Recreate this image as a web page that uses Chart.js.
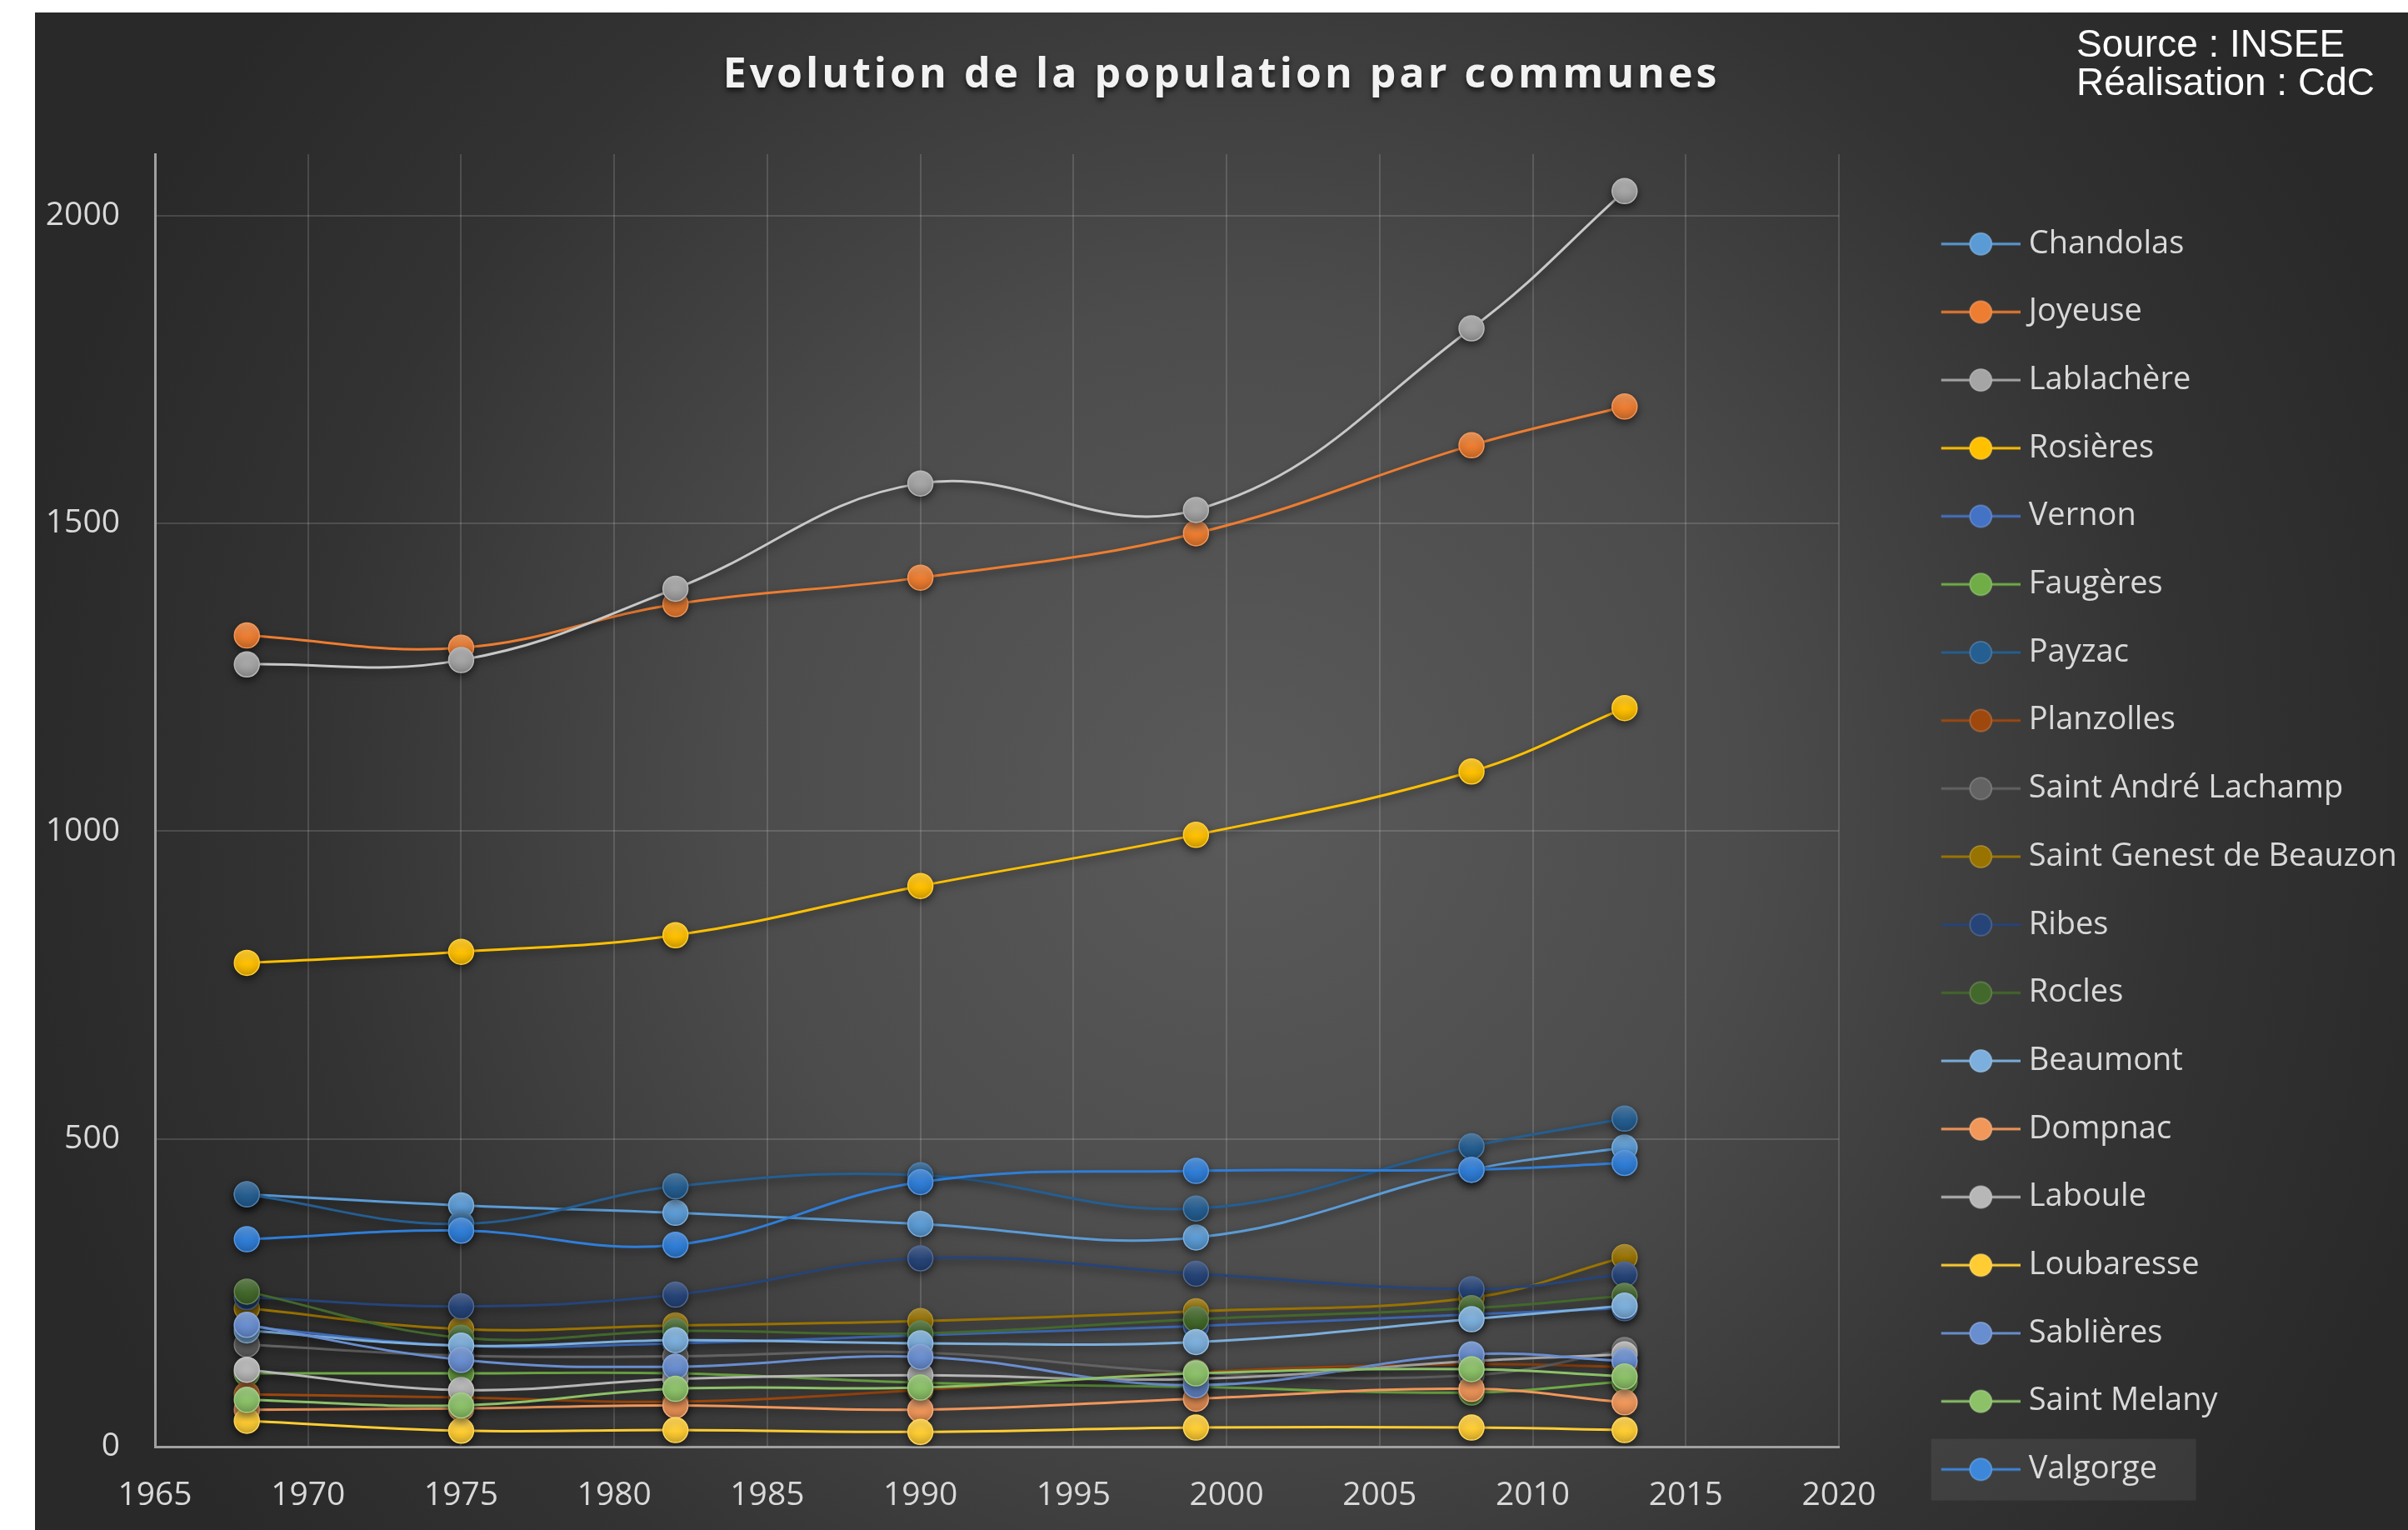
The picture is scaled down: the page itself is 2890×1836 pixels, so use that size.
<!DOCTYPE html>
<html lang="fr">
<head>
<meta charset="utf-8">
<title>Evolution de la population par communes</title>
<script src="https://cdn.jsdelivr.net/npm/chart.js@4.4.1/dist/chart.umd.min.js"></script>
<style>
  html, body { margin: 0; padding: 0; background: #ffffff; }
  body { width: 2890px; height: 1836px; overflow: hidden; position: relative; }
  #wrap { position: absolute; left: 42px; top: 15px; width: 2848px; height: 1821px; }
</style>
</head>
<body>
<div id="wrap"><canvas id="popChart" width="2848" height="1821"></canvas></div>
<script>
// census years (x) and axis ticks
const years = [1968, 1975, 1982, 1990, 1999, 2008, 2013];
const xTicks = [1965, 1970, 1975, 1980, 1985, 1990, 1995, 2000, 2005, 2010, 2015, 2020];
const yTicks = [0, 500, 1000, 1500, 2000];

const communes = [
  "Chandolas", "Joyeuse", "Lablachère", "Rosières", "Vernon", "Faugères",
  "Payzac", "Planzolles", "Saint André Lachamp", "Saint Genest de Beauzon",
  "Ribes", "Rocles", "Beaumont", "Dompnac", "Laboule", "Loubaresse",
  "Sablières", "Saint Melany", "Valgorge"
];

// population per commune, one value per census year
const chandolas   = [410, 392, 380, 362, 340, 450, 486];
const joyeuse     = [1318, 1298, 1369, 1412, 1484, 1627, 1690];
const lablachere  = [1271, 1278, 1394, 1565, 1522, 1817, 2040];
const rosieres    = [786, 804, 831, 911, 994, 1097, 1200];
const vernon      = [195, 164, 168, 181, 196, 215, 225];
const faugeres    = [119, 119, 119, 104, 97, 88, 106];
const payzac      = [410, 362, 423, 441, 387, 488, 533];
const planzolles  = [85, 80, 73, 92, 121, 134, 130];
const saintAndre  = [166, 148, 147, 153, 120, 116, 157];
const saintGenest = [225, 191, 197, 204, 220, 242, 308];
const ribes       = [243, 228, 247, 306, 281, 256, 280];
const rocles      = [252, 177, 188, 184, 207, 225, 245];
const beaumont    = [189, 164, 173, 168, 170, 207, 229];
const dompnac     = [60, 62, 67, 60, 78, 94, 72];
const laboule     = [125, 92, 110, 116, 110, 139, 150];
const loubaresse  = [42, 26, 27, 24, 31, 31, 27];
const sablieres   = [198, 141, 130, 146, 100, 150, 139];
const saintMelany = [76, 67, 94, 96, 119, 126, 114];
const valgorge    = [337, 351, 328, 430, 448, 450, 461];

const series = [
  chandolas, joyeuse, lablachere, rosieres, vernon, faugeres, payzac, planzolles,
  saintAndre, saintGenest, ribes, rocles, beaumont, dompnac, laboule, loubaresse,
  sablieres, saintMelany, valgorge
];

const colors = [
  '#5b9bd5', '#ed7d31', '#a5a5a5', '#ffc000', '#4472c4', '#70ad47',
  '#255e91', '#9e480e', '#636363', '#997300', '#264478', '#43682b',
  '#7cafdd', '#f1975a', '#b7b7b7', '#ffcd33', '#698ed0', '#8cc168', '#2f7ed8'
];

// t > 0 mixes toward white, t < 0 toward black
const shade = (hex, t) => {
  const n = parseInt(hex.slice(1), 16);
  const target = t > 0 ? 255 : 0;
  const a = Math.abs(t);
  const ch = [n >> 16, (n >> 8) & 255, n & 255].map(v => Math.round(v + (target - v) * a));
  return `rgb(${ch[0]}, ${ch[1]}, ${ch[2]})`;
};

// slight vertical gradient on each marker
const markerFill = (color) => (c) => {
  if (c.type !== 'data' || !c.raw) return color;
  const y = c.chart.scales.y.getPixelForValue(c.raw.y);
  if (!Number.isFinite(y)) return color;
  const g = c.chart.ctx.createLinearGradient(0, y - 15, 0, y + 15);
  g.addColorStop(0, shade(color, 0.22));
  g.addColorStop(0.55, color);
  g.addColorStop(1, shade(color, -0.18));
  return g;
};

// legend symbol: line with a marker in the middle (drawn to the right of a transparent gap)
const legendSymbol = (color) => {
  const c = document.createElement('canvas');
  c.width = 183; c.height = 34;
  const g = c.getContext('2d');
  g.strokeStyle = color; g.lineWidth = 3;
  g.beginPath(); g.moveTo(88, 17); g.lineTo(183, 17); g.stroke();
  g.beginPath(); g.arc(135.5, 17, 13, 0, Math.PI * 2);
  g.fillStyle = color; g.fill();
  g.lineWidth = 1.5; g.strokeStyle = shade(color, 0.2); g.stroke();
  return c;
};
const symbols = colors.map(legendSymbol);

const datasets = communes.map((name, i) => ({
  label: name,
  data: years.map((yr, k) => ({ x: yr, y: series[i][k] })),
  showLine: true,
  borderColor: i === 2 ? '#c8c8c8' : colors[i],
  borderWidth: 3,
  tension: 0.4,
  pointRadius: 15,
  pointHoverRadius: 15,
  pointBorderWidth: 1.5,
  pointBorderColor: shade(colors[i], 0.2),
  pointBackgroundColor: markerFill(colors[i]),
  order: -i   // later communes drawn on top, as in the original
}));

const LEGEND_W = 683;

const chartDecor = {
  id: 'chartDecor',
  beforeLayout(chart) {
    const lg = chart.legend;
    if (lg && !lg._fixedW) {
      const fit = lg.fit;
      lg.fit = function () { fit.call(this); this.width = LEGEND_W; };
      lg._fixedW = true;
    }
    const tb = chart.titleBlock;
    if (tb && !tb._spaced) {
      const draw = tb.draw;
      tb.draw = function () {
        const c = this.ctx;
        c.save();
        c.letterSpacing = '4px';
        c.shadowColor = 'rgba(0, 0, 0, 0.65)';
        c.shadowBlur = 6;
        c.shadowOffsetY = 4;
        draw.call(this);
        c.restore();
      };
      tb._spaced = true;
    }
  },
  beforeDraw(chart) {
    const { ctx, width, height } = chart;
    const g = ctx.createRadialGradient(1450, 950, 0, 1450, 950, 1500);
    g.addColorStop(0, '#5a5a5a');
    g.addColorStop(0.4, '#4c4c4c');
    g.addColorStop(0.75, '#333333');
    g.addColorStop(1, '#292929');
    ctx.save();
    ctx.fillStyle = g;
    ctx.fillRect(0, 0, width, height);
    ctx.restore();
  },
  beforeDatasetsDraw(chart) {
    const ctx = chart.ctx;
    ctx.save();
    ctx.shadowColor = 'rgba(0, 0, 0, 0.5)';
    ctx.shadowBlur = 10;
    ctx.shadowOffsetY = 4;
  },
  afterDatasetsDraw(chart) {
    chart.ctx.restore();
  },
  afterDraw(chart) {
    const ctx = chart.ctx;
    ctx.save();
    // selection box around the last legend entry
    const lg = chart.legend;
    const yc = 259 + 18 * 81.7 + 19;
    ctx.fillStyle = 'rgba(255, 255, 255, 0.07)';
    ctx.fillRect(lg.left + 43.7 + 67, yc - 37, 318, 74);
    // source note
    ctx.fillStyle = '#ffffff';
    ctx.font = '46px "Liberation Sans", Arial, sans-serif';
    ctx.textAlign = 'left';
    ctx.textBaseline = 'alphabetic';
    ctx.fillText('Source : INSEE', 2450, 53);
    ctx.fillText('Réalisation : CdC', 2450, 99);
    ctx.restore();
  }
};

const tickFont = { family: '"Open Sans"', size: 39 };
const plainNumber = (v) => String(v);

new Chart(document.getElementById('popChart'), {
  type: 'scatter',
  data: { datasets },
  plugins: [chartDecor],
  options: {
    responsive: false,
    animation: false,
    events: [],
    layout: { padding: 0 },
    scales: {
      x: {
        type: 'linear',
        min: 1965,
        max: 2020,
        afterBuildTicks: (s) => { s.ticks = xTicks.map(v => ({ value: v })); },
        afterFit: (s) => { s.height = 100; },
        ticks: { color: '#d9d9d9', font: tickFont, padding: 35, maxRotation: 0, autoSkip: false, callback: plainNumber },
        grid: { color: 'rgba(255, 255, 255, 0.14)', lineWidth: 2, drawTicks: false },
        border: { display: true, color: '#a0a0a0', width: 3 }
      },
      y: {
        type: 'linear',
        min: 0,
        max: 2100,
        afterBuildTicks: (s) => { s.ticks = yTicks.map(v => ({ value: v })); },
        afterFit: (s) => { s.width = 144; },
        ticks: { color: '#d9d9d9', font: tickFont, padding: 42, callback: plainNumber },
        grid: { color: 'rgba(255, 255, 255, 0.14)', lineWidth: 2, drawTicks: false },
        border: { display: true, color: '#a0a0a0', width: 3 }
      }
    },
    plugins: {
      title: {
        display: true,
        text: 'Evolution de la population par communes',
        color: '#f2f2f2',
        font: { family: '"Open Sans"', size: 50, weight: 'bold', lineHeight: 1.2 },
        padding: { top: 46, bottom: 64 }
      },
      legend: {
        position: 'right',
        align: 'start',
        onClick: null,
        title: { display: true, text: '', padding: { top: 214, bottom: 0 }, font: { size: 1, lineHeight: 1 } },
        labels: {
          usePointStyle: true,
          pointStyleWidth: 165,
          padding: 43.7,
          color: '#d9d9d9',
          font: { family: '"Open Sans"', size: 38 },
          generateLabels: (chart) => chart.data.datasets.map((ds, i) => ({
            text: ds.label,
            pointStyle: symbols[i],
            fillStyle: colors[i],
            strokeStyle: colors[i],
            fontColor: '#d9d9d9',
            lineWidth: 0,
            hidden: false,
            datasetIndex: i
          }))
        }
      },
      tooltip: { enabled: false }
    }
  }
});
</script>
</body>
</html>
